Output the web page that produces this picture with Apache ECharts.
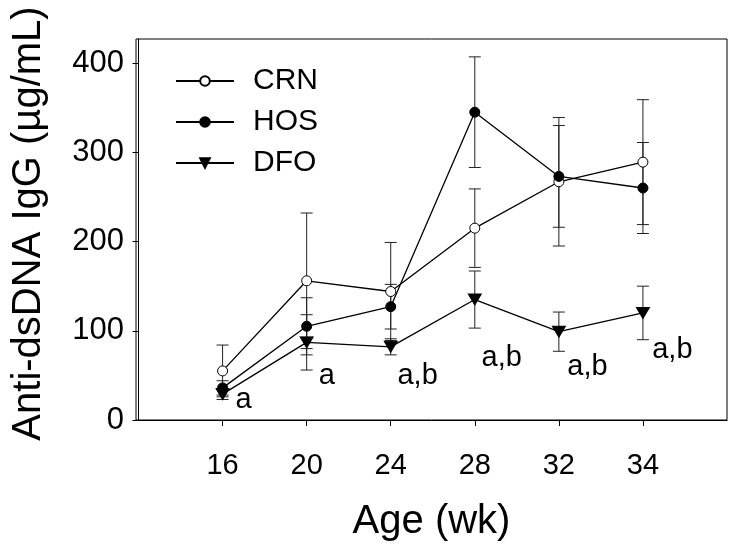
<!DOCTYPE html>
<html>
<head>
<meta charset="utf-8">
<script src="https://cdn.jsdelivr.net/npm/echarts@6/dist/echarts.min.js"></script>
<style>html,body{margin:0;padding:0;background:#fff;}#c{width:733px;height:550px;}</style>
</head>
<body>
<div id="c"></div>
<script>
var categories = ['16', '20', '24', '28', '32', '34'];
var crnMean = [55, 156, 144, 215, 267, 289];
var crnErr  = [29, 76, 55, 44, 72, 70];
var hosMean = [36, 105, 127, 345, 273, 260];
var hosErr  = [8, 32, 25, 62, 57, 51];
var dfoMean = [29, 87, 82, 135, 99, 120];
var dfoErr  = [6, 31, 9, 32, 22, 30];
var yTicks = [0, 100, 200, 300, 400];
var annText = ['a', 'a', 'a,b', 'a,b', 'a,b', 'a,b'];
var annX = [1.25, 2.24, 3.32, 4.32, 5.34, 6.35];
var annY = [22, 49, 49, 69, 59, 78];

var FONT = 'Liberation Sans';
var xPos = categories.map(function (c, i) { return i + 1; });

function pts(mean) { return mean.map(function (v, i) { return [xPos[i], v]; }); }
function errData(mean, err) { return mean.map(function (v, i) { return [xPos[i], v - err[i], v + err[i]]; }); }

function errSeries(mean, err) {
  return {
    type: 'custom',
    silent: true,
    z: 1,
    renderItem: function (params, api) {
      var x = api.value(0), lo = api.value(1), hi = api.value(2);
      var pLo = api.coord([x, lo]), pHi = api.coord([x, hi]);
      var w = 6;
      var st = { stroke: '#222', lineWidth: 1 };
      return {
        type: 'group',
        children: [
          { type: 'line', shape: { x1: pLo[0], y1: pLo[1], x2: pHi[0], y2: pHi[1] }, style: st },
          { type: 'line', shape: { x1: pLo[0] - w, y1: pLo[1], x2: pLo[0] + w, y2: pLo[1] }, style: st },
          { type: 'line', shape: { x1: pHi[0] - w, y1: pHi[1], x2: pHi[0] + w, y2: pHi[1] }, style: st }
        ]
      };
    },
    encode: { x: 0, y: [1, 2] },
    data: errData(mean, err)
  };
}

var chart = echarts.init(document.getElementById('c'));
chart.setOption({
  animation: false,
  backgroundColor: '#fff',
  grid: { left: 136, right: 6, top: 39, bottom: 130, show: true, borderColor: '#000', borderWidth: 1, backgroundColor: 'transparent' },
  legend: {
    orient: 'vertical',
    left: 170, top: 61,
    itemWidth: 58, itemHeight: 12, itemGap: 11,
    textStyle: { fontFamily: FONT, fontSize: 30, color: '#000', padding: [0, 0, 0, 14], lineHeight: 30 },
    data: ['CRN', 'HOS', 'DFO']
  },
  xAxis: {
    type: 'value', min: -0.03, max: 7, interval: 1,
    name: 'Age (wk)', nameLocation: 'middle', nameGap: 82,
    nameTextStyle: { fontFamily: FONT, fontSize: 40, color: '#000' },
    axisLine: { show: true, lineStyle: { color: '#000', width: 1 } },
    axisTick: { show: true, length: 6, inside: false, customValues: xPos, lineStyle: { color: '#000' } },
    axisLabel: {
      fontFamily: FONT, fontSize: 29, color: '#000', margin: 31, customValues: xPos,
      formatter: function (v) { return categories[Math.round(v) - 1] || ''; }
    },
    splitLine: { show: false }
  },
  yAxis: {
    type: 'value', min: 0, max: 427, interval: 100,
    name: 'Anti-dsDNA IgG (µg/mL)', nameLocation: 'middle', nameGap: 87, nameRotate: 90,
    nameTextStyle: { fontFamily: FONT, fontSize: 40, color: '#000', padding: [0, 0, 0, 12] },
    axisLine: { show: true, lineStyle: { color: '#000', width: 1 } },
    axisTick: { show: true, length: 6, inside: false, customValues: yTicks, lineStyle: { color: '#000' } },
    axisLabel: { fontFamily: FONT, fontSize: 31, color: '#000', margin: 12, customValues: yTicks },
    splitLine: { show: false }
  },
  series: [
    errSeries(crnMean, crnErr),
    errSeries(hosMean, hosErr),
    errSeries(dfoMean, dfoErr),
    {
      name: 'CRN', type: 'line', data: pts(crnMean), z: 3,
      symbol: 'circle', symbolSize: 10, showAllSymbol: true,
      lineStyle: { color: '#000', width: 1.3 },
      itemStyle: { color: '#fff', borderColor: '#000', borderWidth: 1 }
    },
    {
      name: 'HOS', type: 'line', data: pts(hosMean), z: 4,
      symbol: 'circle', symbolSize: 10, showAllSymbol: true,
      lineStyle: { color: '#000', width: 1.3 },
      itemStyle: { color: '#000', borderColor: '#000', borderWidth: 1 }
    },
    {
      name: 'DFO', type: 'line', data: pts(dfoMean), z: 5,
      symbol: 'triangle', symbolRotate: 180, symbolSize: [13, 11], showAllSymbol: true,
      lineStyle: { color: '#000', width: 1.3 },
      itemStyle: { color: '#000', borderColor: '#000', borderWidth: 1 }
    },
    {
      type: 'scatter', silent: true, z: 6,
      symbolSize: 1, itemStyle: { color: '#fff', opacity: 0 },
      data: annX.map(function (x, i) { return { value: [x, annY[i]], name: annText[i] }; }),
      label: {
        show: true, position: 'inside', fontFamily: FONT, fontSize: 29, color: '#000',
        opacity: 1, textBorderWidth: 0,
        formatter: function (p) { return p.name; }
      }
    }
  ]
});
</script>
</body>
</html>
